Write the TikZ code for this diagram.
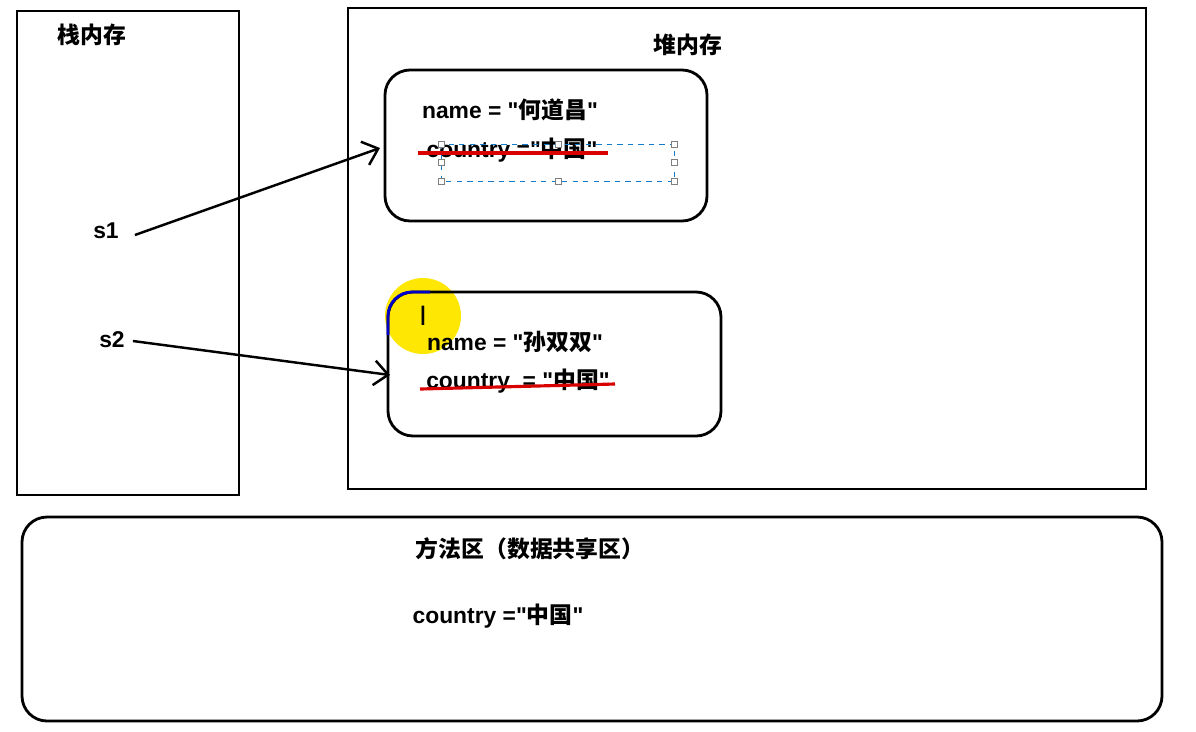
\documentclass[tikz,border=0pt]{standalone}
\usepackage{fontspec}
\setmainfont{Liberation Sans}
\newfontfamily\zhfont{Noto Sans CJK SC}
\newcommand{\zh}[1]{{\zhfont #1}}
\newcommand{\qt}[1]{\textquotedbl\zh{#1}\textquotedbl}
\usetikzlibrary{arrows.meta}
\begin{document}
\begin{tikzpicture}[
  x=0.02cm,y=-0.02cm,
  font=\bfseries\fontsize{13}{15}\selectfont,
  area/.style={draw,line width=1.6pt},
  object/.style={draw,line width=1.6pt,rounded corners=0.5cm},
  ref/.style={-{Straight Barb[length=8pt,width=14pt]},line width=1.4pt},
  strike/.style={red!85!black,line width=1.8pt},
  every node/.style={align=center}]

  \useasboundingbox (0,0) rectangle (1196,731);

  % stack, heap and method area
  \draw[area] (17,11) rectangle (239,495);
  \draw[area] (348,8) rectangle (1146,489);
  \draw[object] (22,517) rectangle (1162,721);
  \node (stack) at (92,35) {\zh{栈内存}};
  \node (heap) at (688,45) {\zh{堆内存}};
  \node (method) at (530,549) {\zh{方法区（数据共享区）}};
  \node (mcountry) at (498,616) {country =\qt{中国}};

  % first object
  \draw[object] (385,70) rectangle (707,221);
  \node (n1) at (510,110) {name = \qt{何道昌}};
  \node (c1) at (512,150) {country =\qt{中国}};
  \draw[strike] (418,153) -- (608,153);
  \draw[cyan!60!blue,dashed,thin] (441,144) rectangle (674,181);
  \foreach \p in {(441,144),(558,144),(674,144),(441,162),(674,162),(441,181),(558,181),(674,181)}
    \draw[gray,fill=white] \p ++(-3,-3) rectangle ++(6,6);

  % second object
  \fill[yellow!90!orange] (423,316) circle[radius=38];
  \draw[object] (388,292) rectangle (721,436);
  \draw[blue!80!black,line width=1.6pt] (388,335) -- (388,316) arc[start angle=180,end angle=270,radius=24] -- (430,292);
  \node (cursor) at (423,316) {\normalfont\fontsize{16}{16}\selectfont I};
  \node (n2) at (515,342) {name = \qt{孙双双}};
  \node (c2) at (518,381) {country~ = \qt{中国}};
  \draw[strike] (420,389) -- (615,384);

  % references
  \node (s1) at (106,231) {s1};
  \node (s2) at (112,340) {s2};
  \coordinate (o1) at (380,148);
  \coordinate (o2) at (390,375);
  \draw[ref] (s1.east) ++(10,4) -- (o1);
  \draw[ref] (s2.east) ++(2,1) -- (o2);

\end{tikzpicture}
\end{document}
